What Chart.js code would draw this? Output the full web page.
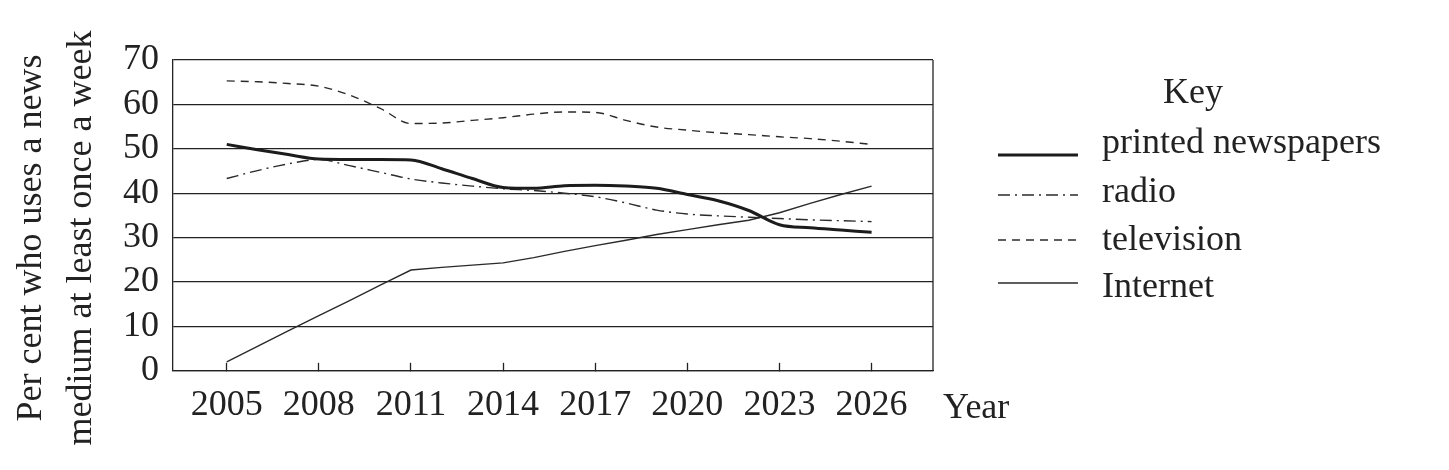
<!DOCTYPE html>
<html lang="en">
<head>
<meta charset="UTF-8">
<title>News media use per week</title>
<script src="https://cdn.jsdelivr.net/npm/chart.js"></script>
<style>
    body {
        margin: 0;
        background: #fff;
    }
    .chart-box {
        width: 1449px;
        height: 470px;
    }
</style>
</head>
<body>
<div class="chart-box"><canvas id="mediaChart"></canvas></div>
<script>
// values, one per year
const years = [2005, 2006, 2007, 2008, 2009, 2010, 2011, 2012, 2013, 2014, 2015,
               2016, 2017, 2018, 2019, 2020, 2021, 2022, 2023, 2024, 2025, 2026];
const tickYears = [2005, 2008, 2011, 2014, 2017, 2020, 2023, 2026];
const seriesNames = ['printed newspapers', 'radio', 'television', 'Internet'];
const yTitle = ['Per cent who uses a news', 'medium at least once a week'];

const printed = [51.0, 49.8, 48.7, 47.7, 47.6, 47.6, 47.5, 45.5, 43.3, 41.3, 41.1,
                 41.7, 41.8, 41.6, 41.1, 39.7, 38.3, 36.1, 32.9, 32.2, 31.7, 31.2];
const radio = [43.3, 45.1, 46.6, 47.6, 46.2, 44.7, 43.2, 42.3, 41.6, 41.0, 40.6,
               40.0, 39.2, 37.8, 36.2, 35.3, 34.9, 34.6, 34.3, 34.0, 33.8, 33.6];
const television = [65.3, 65.1, 64.7, 64.1, 62.1, 59.1, 55.7, 55.8, 56.4, 57.0, 57.8,
                    58.3, 58.2, 56.4, 54.9, 54.2, 53.6, 53.2, 52.7, 52.3, 51.7, 51.0];
const internet = [2.0, 5.5, 9.0, 12.4, 15.8, 19.3, 22.7, 23.3, 23.8, 24.3, 25.5,
                  26.9, 28.2, 29.4, 30.7, 31.8, 32.9, 33.9, 35.6, 37.7, 39.7, 41.6];

const ink = '#222';
const serif = "'Liberation Serif', 'DejaVu Serif', serif";
Chart.defaults.font.family = serif;
Chart.defaults.color = ink;

function points(values) {
    return years.map((yr, i) => ({ x: yr, y: values[i] }));
}

// closes the plot box on the right
const frame = {
    id: 'frame',
    beforeDatasetsDraw(chart) {
        const { ctx, chartArea } = chart;
        ctx.save();
        ctx.strokeStyle = ink;
        ctx.lineWidth = 1.3;
        ctx.beginPath();
        ctx.moveTo(chartArea.right, chartArea.top);
        ctx.lineTo(chartArea.right, chartArea.bottom);
        ctx.stroke();
        ctx.restore();
    }
};

// axis title on the left, "Key" box, and the "Year" word next to the axis
const labels = {
    id: 'labels',
    afterDraw(chart) {
        const { ctx } = chart;
        ctx.save();
        ctx.fillStyle = ink;
        ctx.font = '36px ' + serif;

        ctx.save();
        ctx.translate(0, 238);
        ctx.rotate(-Math.PI / 2);
        ctx.textAlign = 'center';
        ctx.textBaseline = 'middle';
        ctx.fillText(yTitle[0], 0, 32);
        ctx.fillText(yTitle[1], 0, 82);
        ctx.restore();

        const rows = [155, 195, 240, 283];
        const baselines = [153, 202, 250, 297];
        ctx.textBaseline = 'alphabetic';
        ctx.textAlign = 'center';
        ctx.fillText('Key', 1193, 103);
        ctx.textAlign = 'left';
        chart.data.datasets.forEach((ds, i) => {
            ctx.strokeStyle = ds.borderColor;
            ctx.lineWidth = ds.borderWidth;
            ctx.setLineDash(ds.borderDash || []);
            ctx.beginPath();
            ctx.moveTo(998, rows[i]);
            ctx.lineTo(1078, rows[i]);
            ctx.stroke();
            ctx.fillText(ds.label, 1102, baselines[i]);
        });
        ctx.setLineDash([]);
        ctx.fillText('Year', 943, 418);
        ctx.restore();
    }
};

const ctx = document.getElementById('mediaChart').getContext('2d');
const mediaChart = new Chart(ctx, {
    type: 'line',
    data: {
        datasets: [{
            label: seriesNames[0],
            data: points(printed),
            borderColor: '#1c1c1c',
            borderWidth: 3,
            cubicInterpolationMode: 'monotone'
        }, {
            label: seriesNames[1],
            data: points(radio),
            borderColor: '#2a2a2a',
            borderWidth: 1.4,
            borderDash: [12, 5, 2, 5],
            cubicInterpolationMode: 'monotone'
        }, {
            label: seriesNames[2],
            data: points(television),
            borderColor: '#2a2a2a',
            borderWidth: 1.4,
            borderDash: [8, 6],
            cubicInterpolationMode: 'monotone'
        }, {
            label: seriesNames[3],
            data: points(internet),
            borderColor: '#2a2a2a',
            borderWidth: 1.4,
            tension: 0
        }]
    },
    options: {
        responsive: true,
        maintainAspectRatio: false,
        animation: false,
        elements: { point: { radius: 0 } },
        layout: { padding: { left: 109, top: 60, right: 516, bottom: 22 } },
        scales: {
            x: {
                type: 'linear',
                min: 2003.25,
                max: 2028,
                afterBuildTicks: scale => {
                    scale.ticks = tickYears.map(v => ({ value: v }));
                },
                grid: {
                    drawOnChartArea: false,
                    tickLength: -8,
                    color: ink,
                    tickWidth: 1.3
                },
                border: { color: ink, width: 1.3 },
                ticks: {
                    padding: 21,
                    maxRotation: 0,
                    autoSkip: false,
                    font: { size: 36 },
                    callback: v => String(v)
                }
            },
            y: {
                min: 0,
                max: 70,
                ticks: {
                    stepSize: 10,
                    padding: 14,
                    autoSkip: false,
                    font: { size: 36 }
                },
                grid: {
                    color: ink,
                    lineWidth: 1.3,
                    drawTicks: false
                },
                border: { color: ink, width: 1.3 }
            }
        },
        plugins: {
            legend: { display: false },
            tooltip: { enabled: false }
        }
    },
    plugins: [frame, labels]
});
</script>
</body>
</html>
